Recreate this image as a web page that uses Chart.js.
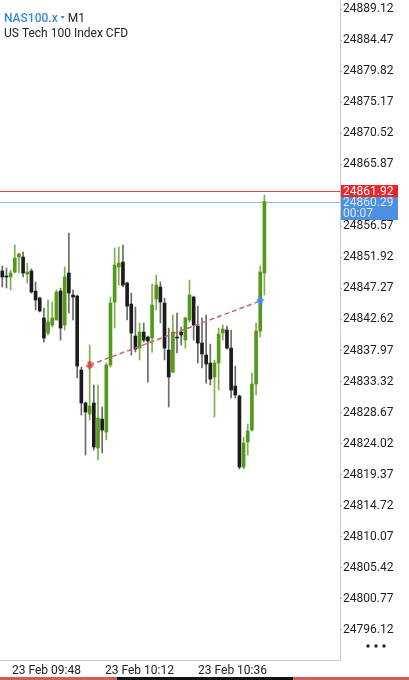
<!DOCTYPE html>
<html>
<head>
<meta charset="utf-8">
<script src="https://cdn.jsdelivr.net/npm/chart.js@4.4.1/dist/chart.umd.min.js"></script>
<style>
  html, body { margin: 0; padding: 0; background: #ffffff; }
  #c { display: block; }
</style>
</head>
<body>
<canvas id="c" width="409" height="680"></canvas>
<script>
// ---- data (1-minute candles, NAS100.x) ----
const opens  = [24849.88,24849.13,24848.98,24849.73,24851.97,24851.97,24849.43,24849.88,24846.88,24845.83,
                24842.84,24840.59,24841.79,24842.54,24846.88,24841.79,24849.58,24846.28,24846.13,24835.05,
                24830.11,24828.46,24830.11,24823.37,24827.71,24825.76,24835.80,24845.23,24850.48,24851.22,
                24848.08,24844.93,24840.14,24838.34,24840.74,24839.99,24839.84,24845.68,24847.48,24845.08,
                24838.04,24834.75,24839.99,24840.74,24839.54,24842.54,24845.98,24841.64,24839.09,24837.30,
                24836.10,24834.00,24836.10,24840.59,24841.04,24838.34,24832.65,24831.16,24820.52,24824.27,
                24826.06,24832.95,24840.89,24849.58];
const highs  = [24850.63,24850.33,24850.03,24853.77,24852.57,24852.72,24851.07,24850.18,24848.23,24845.98,
                24844.34,24845.53,24845.23,24847.03,24847.33,24850.48,24855.57,24847.03,24846.28,24835.50,
                24830.26,24838.79,24832.80,24832.80,24829.51,24836.10,24845.98,24853.32,24853.47,24853.77,
                24848.23,24846.58,24844.48,24842.09,24842.09,24840.14,24847.93,24849.28,24848.23,24845.83,
                24841.34,24843.29,24843.59,24841.49,24842.99,24848.53,24846.13,24844.63,24842.84,24843.29,
                24838.94,24836.55,24841.34,24841.79,24841.64,24841.04,24835.65,24831.31,24825.01,24826.96,
                24834.60,24842.09,24850.63,24861.26];
const lows   = [24847.48,24847.33,24847.03,24849.58,24849.58,24848.98,24848.08,24846.58,24844.04,24843.74,
                24839.24,24840.29,24841.49,24842.54,24839.54,24841.04,24843.59,24842.54,24833.85,24828.31,
                24822.32,24827.56,24823.07,24821.57,24822.62,24824.57,24835.50,24841.34,24847.78,24847.48,
                24842.54,24837.30,24837.74,24836.55,24839.24,24833.25,24837.74,24844.04,24842.09,24836.55,
                24829.51,24834.60,24837.60,24838.79,24838.34,24842.24,24839.54,24836.10,24835.35,24833.10,
                24832.80,24828.01,24832.05,24839.54,24838.19,24830.86,24830.86,24820.22,24820.22,24822.32,
                24825.91,24831.31,24839.99,24846.28];
const closes = [24848.98,24848.98,24849.58,24851.82,24852.42,24849.58,24849.73,24846.73,24845.53,24843.89,
                24839.84,24842.24,24842.84,24846.73,24841.34,24848.98,24846.58,24845.98,24835.65,24830.11,
                24828.76,24829.66,24823.52,24827.86,24826.06,24835.80,24845.08,24850.78,24851.07,24847.78,
                24844.63,24840.59,24838.19,24840.74,24839.54,24839.39,24844.78,24847.78,24845.23,24838.34,
                24834.00,24840.74,24839.84,24840.29,24842.84,24846.28,24841.79,24839.09,24837.45,24835.95,
                24833.70,24836.10,24840.44,24841.19,24838.34,24832.05,24831.31,24820.52,24824.12,24825.91,
                24832.95,24840.89,24849.73,24860.29];

const priceTicks = [24889.12,24884.47,24879.82,24875.17,24870.52,24865.87,24861.22,24856.57,24851.92,24847.27,
                    24842.62,24837.97,24833.32,24828.67,24824.02,24819.37,24814.72,24810.07,24805.42,24800.77,24796.12];
const timeLabels = ['23 Feb 09:48', '23 Feb 10:12', '23 Feb 10:36'];
const timeTickPos = [2.33, 24.68, 47.05];   // positions on the bar-index axis

const askPrice = 24861.92;
const bidPrice = 24860.29;
const countdown = '00:07';
const tradeBars   = [21, 62];
const tradePrices = [24835.80, 24845.39];

const symbolName = 'NAS100.x';
const timeframe = 'M1';
const symbolDesc = 'US Tech 100 Index CFD';

// ---- styles ----
const BULL = '#55981a', BEAR = '#1c1c1c';
const BULL_WICK = '#7cb04a', BEAR_WICK = '#6a6a6a';

function arrowCanvas(color, up) {
  const c = document.createElement('canvas');
  c.width = 9; c.height = 9;
  const g = c.getContext('2d');
  g.fillStyle = color;
  g.beginPath();
  if (up) {
    g.moveTo(4.5, 0); g.lineTo(9, 4.5); g.lineTo(6.5, 4.5); g.lineTo(6.5, 8.5);
    g.lineTo(2.5, 8.5); g.lineTo(2.5, 4.5); g.lineTo(0, 4.5);
  } else {
    g.moveTo(4.5, 9); g.lineTo(9, 4.5); g.lineTo(6.5, 4.5); g.lineTo(6.5, 0.5);
    g.lineTo(2.5, 0.5); g.lineTo(2.5, 4.5); g.lineTo(0, 4.5);
  }
  g.closePath(); g.fill();
  return c;
}
const sellArrow = arrowCanvas('#e0474c', false);
const buyArrow = arrowCanvas('#3f8fe6', true);

const bodyData = opens.map((o, i) => ({ x: i, y: [o, closes[i]] }));
const wickData = lows.map((l, i) => ({ x: i, y: [l, highs[i]] }));
const isBull = i => closes[i] >= opens[i] && !(i === 1);

function noPad(s) { s.paddingTop = 0; s.paddingBottom = 0; s.paddingLeft = 0; s.paddingRight = 0; }

const overlay = {
  id: 'overlay',
  beforeDatasetsDraw(chart) {
    const { ctx, chartArea: a, scales: { y } } = chart;
    ctx.save();
    ctx.lineWidth = 1;
    let py = Math.round(y.getPixelForValue(askPrice)) + 0.5;
    ctx.strokeStyle = '#cf4b4b';
    ctx.beginPath(); ctx.moveTo(a.left, py); ctx.lineTo(a.right, py); ctx.stroke();
    py = Math.round(y.getPixelForValue(bidPrice)) + 0.5;
    ctx.strokeStyle = '#93bde6';
    ctx.beginPath(); ctx.moveTo(a.left, py); ctx.lineTo(a.right, py); ctx.stroke();
    ctx.restore();
  },
  afterDraw(chart) {
    const { ctx, chartArea: a, scales: { y } } = chart;
    ctx.save();
    // price labels
    const bx = a.right + 1, bw = 57;
    let py = Math.round(y.getPixelForValue(askPrice));
    ctx.fillStyle = '#e8262b';
    ctx.fillRect(bx, py - 6, bw, 12);
    ctx.font = '12px Roboto';
    ctx.textBaseline = 'middle';
    ctx.textAlign = 'left';
    ctx.fillStyle = '#ffffff';
    ctx.fillText(askPrice.toFixed(2), bx + 2, py + 0.5);
    const top = py + 6;
    ctx.fillStyle = '#4b90e3';
    ctx.fillRect(bx, top, bw, 23);
    ctx.fillStyle = '#dce9f9';
    ctx.fillText(bidPrice.toFixed(2), bx + 2, top + 6);
    ctx.fillText(countdown, bx + 2, top + 17);

    // header
    ctx.textBaseline = 'alphabetic';
    ctx.font = '500 12px Roboto';
    ctx.fillStyle = '#3a8ad9';
    ctx.fillText(symbolName, 4, 22);
    const w = ctx.measureText(symbolName).width;
    ctx.beginPath();
    ctx.moveTo(4 + w + 3, 16); ctx.lineTo(4 + w + 7, 16); ctx.lineTo(4 + w + 5, 19); ctx.closePath(); ctx.fill();
    ctx.font = '12px Roboto';
    ctx.fillStyle = '#222222';
    ctx.fillText(timeframe, 4 + w + 10, 22);
    ctx.fillText(symbolDesc, 4, 37);

    // menu dots
    ctx.fillStyle = '#222222';
    [368, 376, 384].forEach(x => { ctx.beginPath(); ctx.arc(x, 646, 1.7, 0, Math.PI * 2); ctx.fill(); });

    // bottom strip
    ctx.fillStyle = '#d95a55';
    ctx.fillRect(0, 677, 409, 3);
    ctx.fillStyle = '#111111';
    ctx.fillRect(117, 677, 176, 3);
    ctx.restore();
  }
};

new Chart(document.getElementById('c'), {
  type: 'bar',
  data: {
    datasets: [
      {
        type: 'line',
        data: tradeBars.map((b, i) => ({ x: b, y: tradePrices[i] })),
        borderColor: '#c9656e',
        borderWidth: 1.5,
        borderDash: [5, 3],
        pointStyle: [sellArrow, buyArrow],
        pointRadius: 4,
        order: 0
      },
      {
        data: bodyData,
        backgroundColor: ctx => isBull(ctx.dataIndex) ? BULL : BEAR,
        barThickness: 3,
        minBarLength: 1,
        grouped: false,
        borderWidth: 0,
        order: 1
      },
      {
        data: wickData,
        backgroundColor: ctx => isBull(ctx.dataIndex) ? BULL_WICK : BEAR_WICK,
        barThickness: 1,
        grouped: false,
        borderWidth: 0,
        order: 2
      }
    ]
  },
  options: {
    responsive: false,
    animation: false,
    devicePixelRatio: 1,
    layout: { padding: 0, autoPadding: false },
    plugins: { legend: { display: false }, tooltip: { enabled: false } },
    scales: {
      x: {
        type: 'linear',
        position: 'bottom',
        offset: false,
        min: -0.5528,
        max: 81.172,
        afterBuildTicks: s => { s.ticks = timeTickPos.map(v => ({ value: v })); },
        afterFit: s => { s.height = 20; noPad(s); },
        ticks: {
          callback: (v, i) => timeLabels[i],
          align: 'start',
          autoSkip: false,
          maxRotation: 0,
          padding: 4,
          color: '#222222',
          font: { family: 'Roboto', size: 12 }
        },
        grid: { display: true, drawOnChartArea: false, drawTicks: false },
        border: { display: true, color: '#c9c9c9', width: 1 }
      },
      y: {
        type: 'linear',
        position: 'right',
        offset: false,
        min: 24791.62,
        max: 24890.47,
        afterBuildTicks: s => { s.ticks = priceTicks.map(v => ({ value: v })); },
        afterFit: s => { s.width = 69; noPad(s); },
        ticks: {
          callback: v => v.toFixed(2),
          autoSkip: false,
          padding: 1,
          color: '#1e1e1e',
          font: { family: 'Roboto', size: 12 }
        },
        grid: { display: true, drawOnChartArea: false, drawTicks: true, tickLength: 2, color: '#9a9a9a' },
        border: { display: true, color: '#c9c9c9', width: 1 }
      }
    }
  },
  plugins: [overlay]
});
</script>
</body>
</html>
